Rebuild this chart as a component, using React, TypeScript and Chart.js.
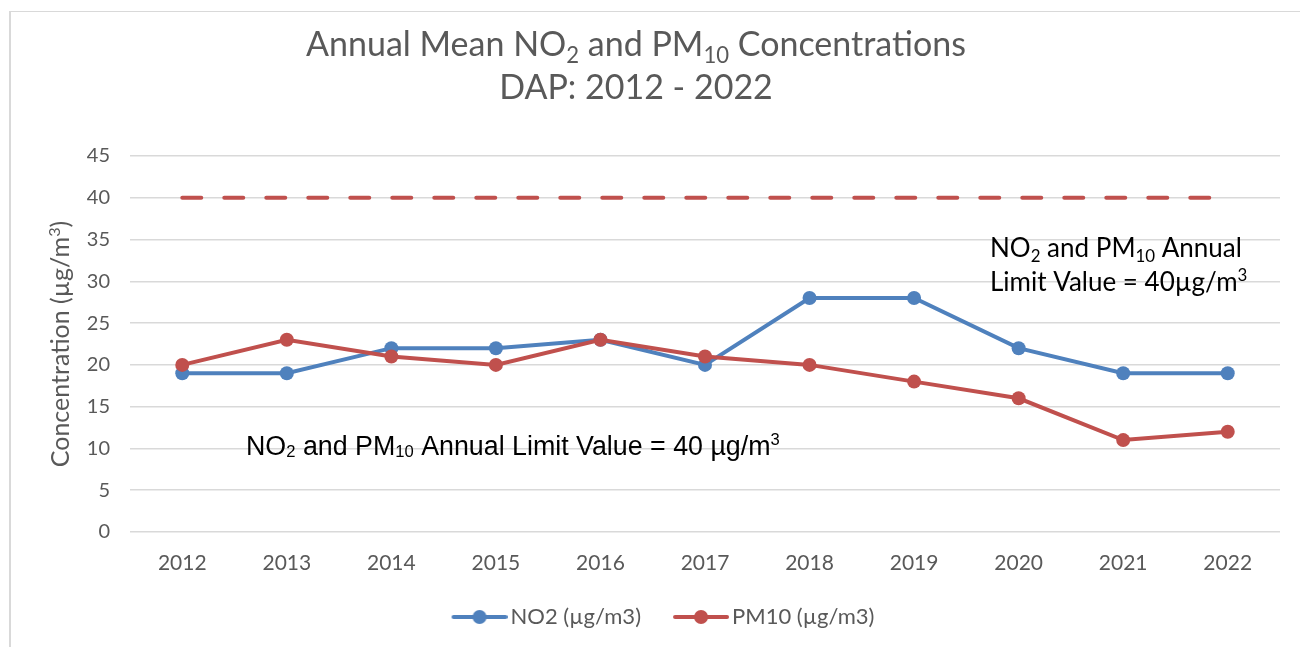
import React, { useEffect, useRef } from "react";
import { Chart, registerables } from "chart.js";

Chart.register(...registerables);

const years = ["2012", "2013", "2014", "2015", "2016", "2017", "2018", "2019", "2020", "2021", "2022"];
const no2Values = [19, 19, 22, 22, 23, 20, 28, 28, 22, 19, 19];
const pm10Values = [20, 23, 21, 20, 23, 21, 20, 18, 16, 11, 12];
const limitValues = [40, 40, 40, 40, 40, 40, 40, 40, 40, 40, 40];
const yMin = 0;
const yMax = 45;
const yStep = 5;
const seriesLabels = ["NO2 (µg/m3)", "PM10 (µg/m3)"];

type Seg = { t: string; s?: "sub" | "sup" };

const titleLine1: Seg[] = [
  { t: "Annual Mean NO" }, { t: "2", s: "sub" }, { t: " and PM" }, { t: "10", s: "sub" }, { t: " Concentrations" },
];
const titleLine2: Seg[] = [{ t: "DAP: 2012 - 2022" }];
const yTitle: Seg[] = [{ t: "Concentration (µg/m" }, { t: "3", s: "sup" }, { t: ")" }];
const noteRight1: Seg[] = [{ t: "NO" }, { t: "2", s: "sub" }, { t: " and PM" }, { t: "10", s: "sub" }, { t: " Annual" }];
const noteRight2: Seg[] = [{ t: "Limit Value = 40µg/m" }, { t: "3", s: "sup" }];
const noteLeft: Seg[] = [
  { t: "NO" }, { t: "2", s: "sub" }, { t: " and PM" }, { t: "10", s: "sub" }, { t: " Annual Limit Value = 40 µg/m" }, { t: "3", s: "sup" },
];

const BLUE = "#4F81BD";
const RED = "#C0504D";
const GREY_TEXT = "#595959";
const CAL = "Lato, 'Open Sans', sans-serif";

function drawRich(
  ctx: CanvasRenderingContext2D,
  segs: Seg[],
  x: number,
  y: number,
  size: number,
  family: string,
  color: string,
  align: "left" | "center",
  subScale = 0.65,
  subDy = 0.2,
  supDy = -0.38
) {
  ctx.save();
  ctx.fillStyle = color;
  ctx.textBaseline = "alphabetic";
  ctx.textAlign = "left";
  const parts = segs.map((sg) => {
    const fs = sg.s ? size * subScale : size;
    ctx.font = `${fs}px ${family}`;
    return { sg, fs, w: ctx.measureText(sg.t).width };
  });
  const total = parts.reduce((a, p) => a + p.w, 0);
  let cx = align === "center" ? x - total / 2 : x;
  for (const p of parts) {
    ctx.font = `${p.fs}px ${family}`;
    const dy = p.sg.s === "sub" ? size * subDy : p.sg.s === "sup" ? size * supDy : 0;
    ctx.fillText(p.sg.t, cx, y + dy);
    cx += p.w;
  }
  ctx.restore();
}

// legend marker: 86px wide image, visible line+dot only on the right 56px
function makeLegendImage(color: string): HTMLCanvasElement {
  const c = document.createElement("canvas");
  c.width = 86;
  c.height = 16;
  const g = c.getContext("2d")!;
  g.strokeStyle = color;
  g.lineWidth = 4;
  g.lineCap = "round";
  g.beginPath();
  g.moveTo(32, 8);
  g.lineTo(84, 8);
  g.stroke();
  g.fillStyle = color;
  g.beginPath();
  g.arc(58, 8, 7, 0, Math.PI * 2);
  g.fill();
  return c;
}

const decorPlugin = {
  id: "decor",
  beforeDraw(chart: any) {
    const ctx = chart.ctx as CanvasRenderingContext2D;
    ctx.save();
    ctx.fillStyle = "#ffffff";
    ctx.fillRect(0, 0, chart.width, chart.height);
    ctx.fillStyle = "#d9d9d9";
    ctx.fillRect(9, 11, 2, chart.height - 11);
    ctx.fillRect(9, 11, chart.width - 9, 1);
    ctx.restore();
  },
  afterDraw(chart: any) {
    const ctx = chart.ctx as CanvasRenderingContext2D;
    drawRich(ctx, titleLine1, 636, 56, 34, CAL, GREY_TEXT, "center");
    drawRich(ctx, titleLine2, 636, 99, 34, CAL, GREY_TEXT, "center");
    ctx.save();
    ctx.translate(69, 344);
    ctx.rotate(-Math.PI / 2);
    drawRich(ctx, yTitle, 0, 0, 25, CAL, GREY_TEXT, "center");
    ctx.restore();
    drawRich(ctx, noteRight1, 990, 257, 26, CAL, "#000000", "left");
    drawRich(ctx, noteRight2, 990, 291, 26, CAL, "#000000", "left");
    drawRich(ctx, noteLeft, 246, 455, 26.8, "'Liberation Sans', Arial, sans-serif", "#000000", "left", 0.62, 0.06, -0.36);
  },
};

export default function App() {
  const ref = useRef<HTMLCanvasElement | null>(null);
  useEffect(() => {
    if (!ref.current) return;
    const imgs = [makeLegendImage(BLUE), makeLegendImage(RED)];
    const chart = new Chart(ref.current, {
      type: "line",
      data: {
        labels: years,
        datasets: [
          {
            label: seriesLabels[0],
            data: no2Values,
            borderColor: BLUE,
            backgroundColor: BLUE,
            pointBackgroundColor: BLUE,
            pointBorderColor: BLUE,
            borderWidth: 4,
            pointRadius: 7,
            pointBorderWidth: 0,
            tension: 0,
            order: 2,
          },
          {
            label: seriesLabels[1],
            data: pm10Values,
            borderColor: RED,
            backgroundColor: RED,
            pointBackgroundColor: RED,
            pointBorderColor: RED,
            borderWidth: 4,
            pointRadius: 7,
            pointBorderWidth: 0,
            tension: 0,
            order: 1,
          },
          {
            label: "Limit",
            data: limitValues,
            borderColor: RED,
            backgroundColor: RED,
            borderWidth: 4,
            borderDash: [19, 23],
            borderCapStyle: "round",
            pointRadius: 0,
            tension: 0,
            order: 3,
          },
        ],
      },
      options: {
        responsive: false,
        animation: false,
        devicePixelRatio: 1,
        layout: { padding: { left: 24, right: 20, top: 156, bottom: 9 } },
        plugins: {
          title: { display: false },
          tooltip: { enabled: false },
          legend: {
            display: true,
            position: "bottom",
            labels: {
              usePointStyle: true,
              pointStyleWidth: 70,
              boxHeight: 22,
              padding: 10,
              color: GREY_TEXT,
              font: { family: CAL, size: 22 },
              generateLabels: () =>
                seriesLabels.map((text, i) => ({
                  text,
                  pointStyle: imgs[i] as any,
                  fillStyle: i === 0 ? BLUE : RED,
                  strokeStyle: i === 0 ? BLUE : RED,
                  lineWidth: 0,
                  fontColor: GREY_TEXT,
                  hidden: false,
                  datasetIndex: i,
                })),
            },
          },
        },
        scales: {
          x: {
            offset: true,
            grid: { display: false, drawTicks: false, offset: true },
            border: { display: false },
            ticks: { color: GREY_TEXT, font: { family: CAL, size: 21 }, padding: 19, maxRotation: 0 },
            afterFit: (s: any) => {
              s.height = 64;
            },
          },
          y: {
            min: yMin,
            max: yMax,
            grid: { color: "#d9d9d9", lineWidth: 1.5, drawTicks: false },
            border: { display: false },
            ticks: { stepSize: yStep, color: GREY_TEXT, font: { family: CAL, size: 20 }, padding: 20 },
            afterFit: (s: any) => {
              s.width = 106;
            },
          },
        },
      },
      plugins: [decorPlugin],
    } as any);
    return () => chart.destroy();
  }, []);
  return (
    <canvas
      ref={ref}
      width={1300}
      height={647}
      style={{ position: "absolute", left: 0, top: 0, width: 1300, height: 647 }}
    />
  );
}
